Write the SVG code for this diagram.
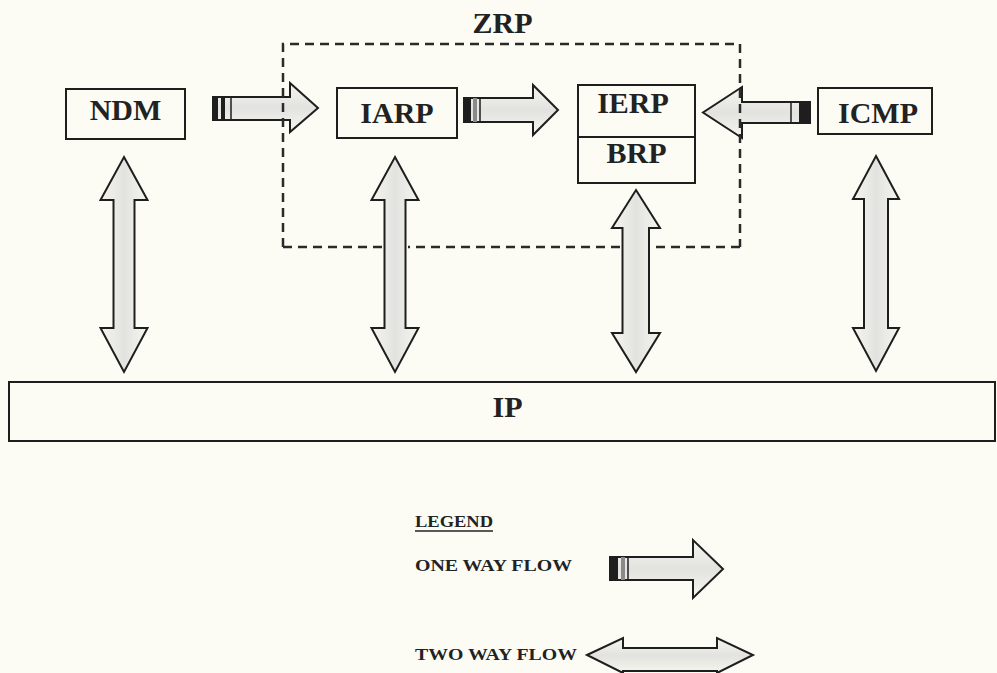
<svg xmlns="http://www.w3.org/2000/svg" width="997" height="673" viewBox="0 0 997 673">
<defs>
<linearGradient id="gv" x1="0" y1="0" x2="1" y2="0">
<stop offset="0" stop-color="#f6f6f0"/><stop offset="0.5" stop-color="#e2e2df"/><stop offset="1" stop-color="#f6f6f0"/>
</linearGradient>
<linearGradient id="gh" x1="0" y1="0" x2="0" y2="1">
<stop offset="0" stop-color="#f6f6f0"/><stop offset="0.5" stop-color="#e2e2df"/><stop offset="1" stop-color="#f6f6f0"/>
</linearGradient>
<style>
.box{fill:none;stroke:#1e1e1e;stroke-width:2}
.lbl{font-family:"Liberation Serif","Times New Roman",serif;font-weight:bold;font-size:30px;fill:#222;text-anchor:middle}
.leg{font-family:"Liberation Serif","Times New Roman",serif;font-weight:bold;font-size:17px;fill:#222}
.dash{fill:none;stroke:#2a2a2a;stroke-width:2.5;stroke-dasharray:9 6}
.va{fill:url(#gv);stroke:#1e1e1e;stroke-width:2;stroke-linejoin:miter}
.ha{fill:url(#gh);stroke:#1e1e1e;stroke-width:2;stroke-linejoin:miter}
.tk{fill:#1e1e1e}
.tg{fill:#8a8a8a}
.tl{stroke:#1e1e1e;stroke-width:1.5}
</style>
</defs>
<rect x="0" y="0" width="997" height="673" fill="#fcfcf5"/>

<g id="NDM">
<rect class="box" x="66" y="89" width="119" height="50"/>
<text class="lbl" x="125.5" y="120">NDM</text>
</g>

<g id="IARP">
<rect class="box" x="337" y="88" width="120" height="50"/>
<text class="lbl" x="397" y="123">IARP</text>
</g>

<g id="IERP_BRP">
<rect class="box" x="578" y="85" width="117" height="98"/>
<line class="box" x1="578" y1="137" x2="695" y2="137"/>
<text class="lbl" x="633" y="113">IERP</text>
<text class="lbl" x="636.5" y="163">BRP</text>
</g>

<g id="ICMP">
<rect class="box" x="818" y="88" width="114" height="46"/>
<text class="lbl" x="878" y="123">ICMP</text>
</g>

<g id="IP">
<rect class="box" x="9" y="382" width="986" height="59"/>
<text class="lbl" x="507.5" y="417">IP</text>
</g>

<g id="connectors">
<!-- one way: NDM -> IARP -->
<polygon class="ha" points="213,97 290,97 290,83 318,108 290,132 290,120 213,120"/>
<rect class="tk" x="213" y="97" width="5" height="23"/>
<rect class="tk" x="221" y="97" width="4" height="23"/>
<line class="tl" x1="231" y1="97" x2="231" y2="120"/>
<!-- one way: IARP -> IERP -->
<polygon class="ha" points="464,98 533,98 533,85 558,110 533,135 533,122 464,122"/>
<rect class="tk" x="464" y="98" width="7" height="24"/>
<rect class="tg" x="473" y="98" width="4" height="24"/>
<line class="tl" x1="480" y1="98" x2="480" y2="122"/>
<!-- one way: ICMP -> IERP -->
<polygon class="ha" points="810,102 742,102 742,87 703,112.5 742,138 742,123 810,123"/>
<rect class="tk" x="799" y="102" width="11" height="21"/>
<line class="tl" x1="791" y1="102" x2="791" y2="123"/>
<!-- two way verticals -->
<polygon class="va" points="124,157 147.5,200 134.5,200 134.5,328 147.5,328 124,372 100.5,328 113.5,328 113.5,200 100.5,200"/>
<polygon class="va" points="395,157 418.5,200 405.5,200 405.5,328 418.5,328 395,372 371.5,328 384.5,328 384.5,200 371.5,200"/>
<polygon class="va" points="636,190 660,228 649,228 649,333 660,333 636,372 612,333 622.5,333 622.5,228 612,228"/>
<polygon class="va" points="876,156 899,199 888,199 888,328 899,328 876,371 853,328 864,328 864,199 853,199"/>
</g>

<g id="ZRP">
<path class="dash" d="M283,247 V44 H740 V247 M740,247 H651 M620,247 H408 M382,247 H283"/>
<text class="lbl" x="502.5" y="33">ZRP</text>
</g>

<g id="legend">
<text class="leg" x="415" y="527" textLength="78" lengthAdjust="spacingAndGlyphs">LEGEND</text>
<line x1="415" y1="531" x2="493" y2="531" stroke="#222" stroke-width="1.5"/>
<text class="leg" x="415" y="571" textLength="157" lengthAdjust="spacingAndGlyphs">ONE WAY FLOW</text>
<polygon class="ha" points="610,557 693,557 693,540 723,569 693,598 693,580 610,580"/>
<rect class="tk" x="610" y="557" width="8" height="23"/>
<rect class="tg" x="621" y="557" width="4" height="23"/>
<line class="tl" x1="628" y1="557" x2="628" y2="580"/>
<text class="leg" x="415" y="660" textLength="162" lengthAdjust="spacingAndGlyphs">TWO WAY FLOW</text>
<polygon class="ha" points="587,655 623,638 623,648 717,648 717,638 753,655 717,673 717,671 623,671 623,673"/>
</g>
</svg>
